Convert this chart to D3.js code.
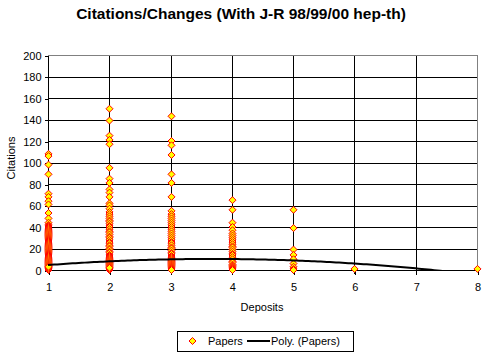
<!DOCTYPE html>
<html><head><meta charset="utf-8">
<script src="https://cdn.jsdelivr.net/npm/d3@7"></script>
<style>body{margin:0;background:#fff;} svg{display:block;} text{font-family:"Liberation Sans",Arial,sans-serif;}</style>
</head><body><div id="chart"></div>
<script>
// ---- data ----
const title = "Citations/Changes (With J-R 98/99/00 hep-th)";
const xTicks = [1, 2, 3, 4, 5, 6, 7, 8];
const yTicks = [0, 20, 40, 60, 80, 100, 120, 140, 160, 180, 200];
const deposits1 = [108, 106, 98, 89, 71, 68, 64, 61, 53, 48, 44, 42, 41, 40, 39, 38, 37, 36, 35, 34, 33, 32, 31, 30, 29, 28, 27, 26, 25, 24, 23, 22, 21, 20, 19, 18, 17, 16, 15, 14, 13, 12, 11, 10, 9, 8, 7, 6, 5, 4, 3, 2, 1, 0, 0, 1, 2, 3];
const deposits2 = [150, 139, 125, 121, 117, 95, 85, 81, 75, 72, 68, 62, 60, 57, 54, 52, 50, 48, 46, 45, 43, 41, 40, 38, 36, 35, 33, 31, 30, 28, 26, 25, 23, 22, 20, 19, 17, 16, 14, 13, 12, 11, 10, 9, 8, 7, 6, 5, 4, 3, 2, 1, 0, 0, 1, 2];
const deposits3 = [143, 120, 116, 107, 89, 81, 68, 55, 52, 50, 48, 46, 44, 42, 40, 38, 36, 34, 32, 30, 28, 26, 25, 23, 21, 20, 18, 16, 15, 13, 12, 11, 10, 9, 8, 7, 6, 5, 4, 3, 2, 1, 0];
const deposits4 = [65, 56, 44, 40, 37, 34, 32, 30, 28, 26, 24, 22, 21, 19, 17, 15, 14, 12, 10, 8, 7, 5, 4, 3, 2, 1, 0];
const deposits5 = [56, 39, 19, 14, 10, 6, 3, 1, 0];
const deposits6 = [1];
const deposits7 = [];
const deposits8 = [1];
// polynomial (order 2) trendline coefficients: c0 + c1*x + c2*x^2
const polyCoef = [-0.45, 5.84, -0.794];

const columns = [deposits1, deposits2, deposits3, deposits4, deposits5, deposits6, deposits7, deposits8];
const points = [];
columns.forEach((arr, i) => arr.forEach(v => points.push({x: xTicks[i], y: v})));

// ---- layout ----
const W = 484, H = 356;
const svg = d3.select("#chart").append("svg").attr("width", W).attr("height", H);
const x = d3.scaleLinear().domain([1, 8]).range([48, 477]);
const y = d3.scaleLinear().domain([0, 200]).range([270, 55]);

svg.append("text").attr("x", 241).attr("y", 19).attr("text-anchor", "middle")
  .attr("font-size", 15.5).attr("font-weight", "bold").text(title);

// horizontal gridlines
svg.append("g").selectAll("line").data(yTicks.filter(t => t > 0 && t < 200)).join("line")
  .attr("x1", x(1)).attr("x2", x(8)).attr("y1", d => y(d) + 0.5).attr("y2", d => y(d) + 0.5)
  .attr("stroke", "#000").attr("stroke-width", 1).attr("shape-rendering", "crispEdges");
// vertical gridlines
svg.append("g").selectAll("line").data(xTicks.filter(t => t > 1 && t < 8)).join("line")
  .attr("x1", d => Math.round(x(d)) + 0.5).attr("x2", d => Math.round(x(d)) + 0.5)
  .attr("y1", y(200)).attr("y2", y(0) + 4)
  .attr("stroke", "#000").attr("stroke-width", 1).attr("shape-rendering", "crispEdges");
// gray top/right border
svg.append("path").attr("d", `M${x(1)},${y(200) + 0.5}H${x(8) + 0.5}V${y(0)}`)
  .attr("fill", "none").attr("stroke", "#808080").attr("stroke-width", 1).attr("shape-rendering", "crispEdges");

// axes
const yAxis = d3.axisLeft(y).tickValues(yTicks).tickSize(4).tickPadding(3).tickFormat(d3.format("d"));
const gy = svg.append("g").attr("transform", `translate(${x(1) + 0.5},0.5)`).call(yAxis);
const xAxis = d3.axisBottom(x).tickValues(xTicks).tickSize(4).tickPadding(9).tickFormat(d3.format("d"));
const gx = svg.append("g").attr("transform", `translate(0.5,${y(0) + 0.5})`).call(xAxis);
[gy, gx].forEach(g => {
  g.select(".domain").attr("stroke", "#000").attr("shape-rendering", "crispEdges");
  g.selectAll(".tick line").attr("stroke", "#000").attr("shape-rendering", "crispEdges");
  g.selectAll("text").attr("font-family", "Liberation Sans, Arial, sans-serif").attr("font-size", 11).attr("fill", "#000");
});
gy.select(".domain").attr("d", `M0,${y(200)}V${y(0)}`);
gx.select(".domain").attr("d", `M${x(1)},0H${x(8)}`);

svg.append("text").attr("x", 262).attr("y", 311).attr("text-anchor", "middle").attr("font-size", 11).text("Deposits");
svg.append("text").attr("transform", `translate(15,158) rotate(-90)`).attr("text-anchor", "middle").attr("font-size", 11).text("Citations");

// clip
svg.append("clipPath").attr("id", "clip").append("rect")
  .attr("x", x(1)).attr("y", y(200)).attr("width", x(8) - x(1)).attr("height", y(0) - y(200));

// points
const diamond = "M0,-3.5L3.5,0L0,3.5L-3.5,0Z";
svg.append("g").selectAll("path").data(points).join("path")
  .attr("d", diamond).attr("transform", d => `translate(${Math.round(x(d.x)) + 0.5},${y(d.y)})`)
  .attr("fill", "#ffff00").attr("stroke", "#ff0000").attr("stroke-width", 1);

// trendline
const poly = t => polyCoef[0] + polyCoef[1] * t + polyCoef[2] * t * t;
const xs = d3.range(1, 8.001, 0.05);
svg.append("path").attr("clip-path", "url(#clip)")
  .attr("d", d3.line().x(t => x(t)).y(t => y(poly(t)))(xs))
  .attr("fill", "none").attr("stroke", "#000").attr("stroke-width", 2);

// legend
const lg = svg.append("g");
lg.append("rect").attr("x", 177.5).attr("y", 331.5).attr("width", 176).attr("height", 20)
  .attr("fill", "#fff").attr("stroke", "#000").attr("stroke-width", 1);
lg.append("path").attr("d", diamond).attr("transform", "translate(192.5,341)")
  .attr("fill", "#ffff00").attr("stroke", "#ff0000");
lg.append("text").attr("x", 208).attr("y", 345).attr("font-size", 11).text("Papers");
lg.append("line").attr("x1", 247).attr("x2", 270).attr("y1", 341).attr("y2", 341).attr("stroke", "#000").attr("stroke-width", 2);
lg.append("text").attr("x", 271).attr("y", 345).attr("font-size", 11).text("Poly. (Papers)");
</script>
</body></html>
